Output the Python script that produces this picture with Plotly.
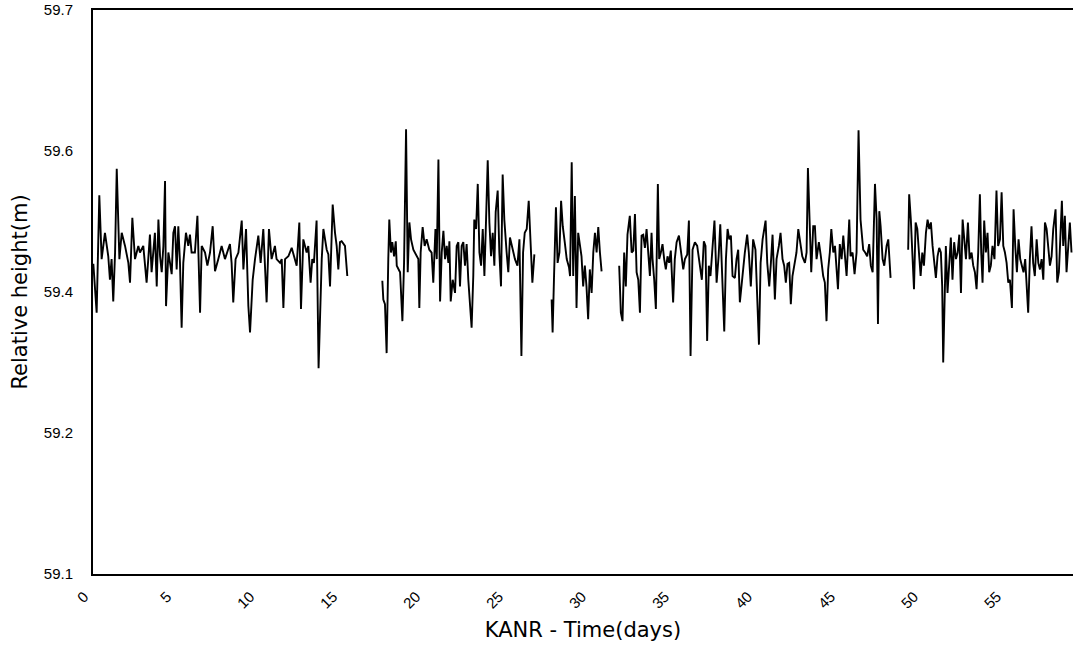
import plotly.graph_objects as go

# Segment 1
s1_days = [0.02,0.12,0.22,0.38,0.52,0.72,0.92,1.02,1.12,1.22,1.33,1.43,1.59,1.73,1.93,2.13,2.23,2.37,2.53,2.73,2.83,3.03,3.13,3.23,3.33,3.43,3.53,3.63,3.73,3.84,3.94,4.04,4.14,4.24,4.34,4.40,4.54,4.64,4.74,4.84,4.94,5.04,5.14,5.24,5.34,5.44,5.60,5.74,5.84,5.94,6.14,6.29,6.45,6.55,6.75,6.89,7.05,7.21,7.35,7.55,7.75,7.95,8.09,8.25,8.35,8.45,8.59,8.76,8.96,9.06,9.22,9.36,9.46,9.62,9.76,9.96,10.10,10.26,10.46,10.60,10.76,10.96,11.06,11.27,11.37,11.47,11.57,11.77,11.97,12.11,12.27,12.43,12.53,12.67,12.87,12.97,13.11,13.21,13.31,13.47,13.59,13.78,13.88,14.08,14.18,14.28,14.44,14.58,14.68,14.78,14.88,14.98,15.18,15.32]
s1_h = [59.430,59.400,59.378,59.503,59.435,59.463,59.438,59.413,59.435,59.390,59.442,59.531,59.435,59.463,59.449,59.431,59.410,59.479,59.435,59.449,59.442,59.449,59.424,59.410,59.435,59.461,59.421,59.442,59.463,59.406,59.477,59.438,59.421,59.449,59.518,59.385,59.442,59.431,59.419,59.463,59.470,59.424,59.470,59.431,59.362,59.431,59.463,59.449,59.461,59.442,59.442,59.481,59.378,59.449,59.442,59.428,59.442,59.470,59.422,59.435,59.449,59.435,59.442,59.451,59.431,59.389,59.435,59.442,59.476,59.424,59.467,59.385,59.357,59.413,59.435,59.460,59.431,59.467,59.389,59.467,59.435,59.449,59.435,59.431,59.435,59.383,59.435,59.438,59.447,59.438,59.428,59.474,59.382,59.456,59.442,59.449,59.410,59.435,59.431,59.476,59.319,59.435,59.467,59.445,59.440,59.406,59.493,59.463,59.449,59.424,59.453,59.454,59.449,59.417]

# Segment 2
s2_days = [17.43,17.49,17.59,17.69,17.79,17.85,17.95,18.03,18.14,18.24,18.30,18.50,18.64,18.74,18.86,18.96,19.06,19.16,19.30,19.46,19.60,19.66,19.74,19.86,19.98,20.10,20.26,20.40,20.50,20.63,20.71,20.81,20.91,21.01,21.11,21.21,21.31,21.41,21.47,21.55,21.67,21.81,21.91,22.01,22.11,22.21,22.31,22.41,22.51,22.61,22.71,22.81,22.91,22.97,23.08,23.18,23.28,23.38,23.48,23.58,23.68,23.78,23.88,23.98,24.08,24.18,24.26,24.38,24.48,24.58,24.68,24.78,24.92,25.02,25.12,25.28,25.42,25.57,25.69,25.81,25.91,26.01,26.13,26.25,26.35,26.47,26.59]
s2_h = [59.412,59.392,59.387,59.335,59.435,59.477,59.442,59.453,59.438,59.454,59.428,59.421,59.369,59.431,59.573,59.421,59.474,59.456,59.445,59.440,59.435,59.383,59.442,59.469,59.449,59.456,59.445,59.442,59.410,59.467,59.435,59.541,59.390,59.442,59.465,59.435,59.449,59.431,59.454,59.390,59.413,59.399,59.449,59.453,59.406,59.449,59.453,59.428,59.451,59.413,59.385,59.362,59.417,59.477,59.467,59.515,59.442,59.428,59.467,59.417,59.477,59.540,59.474,59.438,59.463,59.428,59.485,59.508,59.442,59.406,59.525,59.477,59.442,59.421,59.458,59.444,59.435,59.428,59.456,59.332,59.442,59.463,59.467,59.497,59.456,59.410,59.440]

# Segment 3
s3_days = [27.63,27.69,27.77,27.89,27.99,28.10,28.20,28.30,28.42,28.54,28.68,28.74,28.84,28.93,29.03,29.13,29.23,29.33,29.43,29.53,29.63,29.73,29.83,29.93,30.04,30.14,30.24,30.34,30.44,30.54,30.64]
s3_h = [59.392,59.357,59.413,59.490,59.431,59.442,59.497,59.470,59.453,59.435,59.426,59.417,59.538,59.417,59.502,59.383,59.463,59.449,59.438,59.406,59.428,59.406,59.371,59.424,59.399,59.442,59.463,59.442,59.469,59.442,59.422]

# Segment 4
s4_days = [31.70,31.80,31.90,32.00,32.10,32.20,32.34,32.45,32.55,32.65,32.75,32.85,32.95,33.05,33.15,33.25,33.35,33.45,33.55,33.65,33.71,33.81,33.91,34.03,34.11,34.21,34.31,34.41,34.51,34.61,34.71,34.81,34.95,35.05,35.16,35.30,35.44,35.56,35.66,35.80,35.90,36.00,36.12,36.26,36.40,36.56,36.68,36.80,36.90,37.00,37.10,37.20,37.32,37.44,37.57,37.69,37.79,37.89,38.03,38.13,38.23,38.33,38.43,38.53,38.67,38.77,38.87,38.97,39.07,39.17,39.27,39.41,39.51,39.63,39.77,39.91,40.02,40.12,40.22,40.34,40.44,40.52,40.62,40.74,40.84,40.94,41.08,41.18,41.32,41.42,41.54,41.64,41.74,41.84,41.94,42.04,42.14,42.24,42.38,42.49,42.59,42.73,42.89,42.99,43.07,43.15,43.27,43.39,43.49,43.59,43.73,43.85,43.99,44.09,44.19,44.29,44.39,44.48,44.60,44.70,44.80,44.88,44.99,45.10,45.20,45.30,45.40,45.56,45.64,45.76,45.88,46.00,46.12,46.24,46.40,46.52,46.64,46.76,46.86,46.97,47.11,47.21,47.29,47.37,47.45,47.57,47.67,47.81,47.91,48.05]
s4_h = [59.428,59.378,59.369,59.442,59.406,59.461,59.481,59.442,59.444,59.483,59.421,59.413,59.378,59.460,59.461,59.447,59.467,59.444,59.417,59.463,59.435,59.413,59.382,59.515,59.435,59.442,59.451,59.435,59.424,59.438,59.431,59.444,59.389,59.435,59.453,59.460,59.442,59.424,59.435,59.440,59.476,59.332,59.445,59.453,59.449,59.431,59.413,59.454,59.449,59.348,59.428,59.417,59.449,59.476,59.410,59.438,59.472,59.421,59.358,59.435,59.467,59.456,59.460,59.417,59.415,59.435,59.445,59.389,59.406,59.428,59.442,59.461,59.442,59.406,59.456,59.445,59.399,59.344,59.431,59.456,59.467,59.476,59.431,59.406,59.431,59.461,59.392,59.435,59.449,59.463,59.435,59.428,59.410,59.430,59.431,59.387,59.417,59.428,59.442,59.467,59.453,59.438,59.431,59.442,59.532,59.492,59.421,59.470,59.470,59.435,59.453,59.438,59.417,59.410,59.369,59.424,59.442,59.467,59.442,59.449,59.428,59.403,59.451,59.435,59.460,59.438,59.417,59.477,59.438,59.442,59.419,59.442,59.572,59.477,59.445,59.442,59.438,59.451,59.428,59.421,59.515,59.477,59.366,59.486,59.470,59.435,59.428,59.449,59.456,59.415]

# Segment 5
s5_days = [49.11,49.17,49.27,49.37,49.46,49.56,49.66,49.76,49.86,49.96,50.06,50.18,50.28,50.38,50.48,50.58,50.68,50.78,50.88,50.98,51.08,51.16,51.22,51.30,51.38,51.48,51.58,51.68,51.78,51.88,51.99,52.09,52.19,52.29,52.39,52.49,52.59,52.71,52.81,52.93,53.03,53.13,53.23,53.33,53.43,53.51,53.59,53.69,53.79,53.89,53.99,54.09,54.19,54.31,54.43,54.53,54.64,54.74,54.84,54.94,55.04,55.14,55.24,55.36,55.46,55.56,55.66,55.76,55.86,55.96,56.06,56.16,56.24,56.34,56.44,56.54,56.64,56.74,56.85,56.95,57.05,57.15,57.25,57.35,57.45,57.55,57.65,57.75,57.85,57.99,58.09,58.19,58.29,58.37,58.45,58.55,58.65,58.75,58.85,58.95]
s5_h = [59.445,59.504,59.477,59.435,59.403,59.474,59.467,59.442,59.417,59.442,59.428,59.463,59.477,59.467,59.474,59.449,59.435,59.415,59.438,59.447,59.442,59.406,59.325,59.399,59.449,59.399,59.428,59.458,59.413,59.453,59.435,59.442,59.461,59.399,59.477,59.456,59.435,59.474,59.435,59.442,59.428,59.421,59.403,59.442,59.504,59.442,59.410,59.476,59.442,59.463,59.421,59.428,59.449,59.435,59.508,59.449,59.456,59.506,59.449,59.442,59.431,59.410,59.413,59.383,59.488,59.449,59.421,59.456,59.435,59.428,59.421,59.435,59.413,59.378,59.435,59.470,59.431,59.417,59.456,59.431,59.424,59.435,59.413,59.474,59.467,59.445,59.428,59.438,59.467,59.488,59.410,59.421,59.477,59.497,59.449,59.481,59.421,59.449,59.474,59.442]

y_tick_vals = [59.1, 59.25, 59.4, 59.55, 59.7]
y_tick_text = ["59.1", "59.2", "59.4", "59.6", "59.7"]
x_tick_vals = [0, 5, 10, 15, 20, 25, 30, 35, 40, 45, 50, 55]

segments = [(s1_days, s1_h), (s2_days, s2_h), (s3_days, s3_h), (s4_days, s4_h), (s5_days, s5_h)]
xs, ys = [], []
for d, h in segments:
    xs += list(d) + [None]
    ys += list(h) + [None]

fig = go.Figure()
fig.add_trace(go.Scatter(x=xs, y=ys, mode="lines", connectgaps=False,
                         line=dict(color="black", width=1.9), showlegend=False))

tick_font = "Liberation Sans, Arial, sans-serif"
title_font = "DejaVu Sans, Verdana, sans-serif"
fig.update_layout(
    width=1073, height=655,
    margin=dict(l=93, r=0, t=10, b=81),
    paper_bgcolor="white", plot_bgcolor="white",
    font=dict(family=tick_font, color="black", size=15),
    xaxis=dict(range=[0, 59.04], tickvals=x_tick_vals, tickangle=-45,
               showgrid=False, zeroline=False, showline=True, linecolor="black",
               linewidth=2, mirror=True, ticks="", tickfont=dict(size=15),
               ticklabelshift=-9, ticklabelstandoff=6,
               title=dict(text="KANR - Time(days)",
                          font=dict(size=21, family=title_font), standoff=12)),
    yaxis=dict(range=[59.1, 59.7], tickvals=y_tick_vals, ticktext=y_tick_text,
               showgrid=False, zeroline=False, showline=True, linecolor="black",
               linewidth=2, mirror=False, ticks="", ticklabelstandoff=15,
               tickfont=dict(size=15),
               title=dict(text="Relative height(m)",
                          font=dict(size=21, family=title_font), standoff=10)),
)

fig.write_html("out.html", config={"displayModeBar": False},
               post_script="document.body.style.margin='0';document.body.style.overflow='hidden';")
